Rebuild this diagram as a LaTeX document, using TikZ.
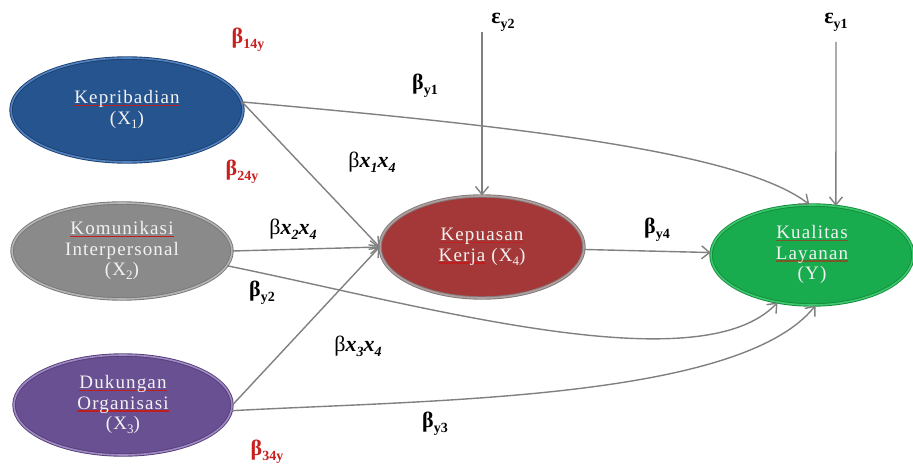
\documentclass[tikz,border=0pt]{standalone}
\usepackage{fontspec}
\setmainfont{Liberation Serif}
\newfontfamily\tnr{Liberation Serif}
\usetikzlibrary{shapes.geometric,arrows.meta}
\definecolor{lineg}{RGB}{128,128,128}
\definecolor{bluef}{RGB}{38,84,142}
\definecolor{blueo}{RGB}{30,62,112}
\definecolor{blueb}{RGB}{80,130,190}
\definecolor{grayf}{RGB}{138,138,138}
\definecolor{grayo}{RGB}{120,120,120}
\definecolor{grayb}{RGB}{180,180,180}
\definecolor{purpf}{RGB}{104,80,146}
\definecolor{purpo}{RGB}{85,62,120}
\definecolor{purpb}{RGB}{160,138,196}
\definecolor{redf}{RGB}{164,56,56}
\definecolor{redo}{RGB}{130,120,120}
\definecolor{redb}{RGB}{175,160,160}
\definecolor{greenf}{RGB}{24,172,78}
\definecolor{greeno}{RGB}{20,140,60}
\definecolor{greenb}{RGB}{60,200,110}
\definecolor{labred}{RGB}{200,30,30}
\definecolor{ulred}{RGB}{190,30,30}
\definecolor{ulgreen}{RGB}{120,90,40}
\newsavebox{\ulbox}
\newcommand{\ulc}[2]{\leavevmode\sbox{\ulbox}{#2}\rlap{\textcolor{#1}{\rule[-0.3ex]{\wd\ulbox}{1.6pt}}}\usebox{\ulbox}}
\newcommand{\rul}[1]{\ulc{ulred}{#1}}
\newcommand{\gul}[1]{\ulc{ulgreen}{#1}}
\newcommand{\sbx}[1]{\raisebox{-0.22em}{\fontsize{14}{14}\selectfont #1}}
\newcommand{\nsub}[1]{\raisebox{-0.2em}{\fontsize{13}{13}\selectfont #1}}
\newcommand{\lines}[1]{\begin{tabular}{@{}c@{}}#1\end{tabular}}
\begin{document}
\begin{tikzpicture}[x=1pt,y=-1pt,
  ell/.style={ellipse,inner sep=0pt,line width=0.9pt,double distance=1.6pt,
    font=\tnr\fontsize{19}{20.5}\selectfont\addfontfeature{LetterSpace=6},text=white!90!gray},
  arr/.style={draw=lineg,line width=1.4pt,-{Straight Barb[length=8pt,width=13pt,line width=1.4pt]}},
  lab/.style={inner sep=1pt,font=\tnr\fontsize{22}{24}\selectfont\bfseries},
  rlab/.style={lab,text=labred}]
\useasboundingbox (0,0) rectangle (913,465);

\node[ell,fill=bluef,draw=blueo,double=blueb,minimum width=232pt,minimum height=104pt] (X1) at (127,110) {\lines{\rul{Kepribadian}\\(X\nsub{1})}};
\node[ell,fill=grayf,draw=grayo,double=grayb,minimum width=220pt,minimum height=96pt] (X2) at (122,251) {\lines{\rul{Komunikasi}\\Interpersonal\\(X\nsub{2})}};
\node[ell,fill=purpf,draw=purpo,double=purpb,minimum width=218pt,minimum height=100pt] (X3) at (123,405) {\lines{\rul{Dukungan}\\\rul{Organisasi}\\(X\nsub{3})}};
\node[ell,fill=redf,draw=redo,double=redb,minimum width=204pt,minimum height=102pt] (X4) at (482,247) {\lines{\rul{Kepuasan}\\\rul{Kerja}\ (X\nsub{4})}};
\node[ell,fill=greenf,draw=greeno,double=greenb,minimum width=202pt,minimum height=100pt] (Y) at (812,255) {\lines{\gul{Kualitas}\\\gul{Layanan}\\(Y)}};

\coordinate (e2s) at (482,32);
\coordinate (e1s) at (836,42);
\node[lab] (ey2) at (503,22) {ε\sbx{y2}};
\node[lab] (ey1) at (836,22) {ε\sbx{y1}};

\draw[arr] (e2s) -- (X4.north);
\draw[arr] (e1s) -- (Y.64);

\draw[arr] (X1.4) .. controls (500,125) and (740,150) .. (Y.93);
\draw[arr] (X1.4) -- (X4.west);
\draw[arr] (X2.east) -- (X4.west);
\draw[arr] (X3.east) -- (X4.west);
\draw[arr] (X2.352) .. controls (420,305) and (700,385) .. (Y.234);
\draw[arr] (X3.357) .. controls (430,400) and (740,400) .. (Y.274);
\draw[arr] (X4) -- (Y);

\node[rlab] (b14) at (248,40) {β\sbx{14y}};
\node[rlab] (b24) at (242,172) {β\sbx{24y}};
\node[rlab] (b34) at (267,452) {β\sbx{34y}};
\node[lab] (by1) at (425,86) {β\sbx{y1}};
\node[lab] (by2) at (262,293) {β\sbx{y2}};
\node[lab] (by3) at (435,424) {β\sbx{y3}};
\node[lab] (by4) at (657,230) {β\sbx{y4}};
\node[lab,font=\tnr\fontsize{22}{24}\selectfont] (bx14) at (372,162) {β{\bfseries\itshape x\sbx{1}x\sbx{4}}};
\node[lab,font=\tnr\fontsize{22}{24}\selectfont] (bx24) at (293,229) {β{\bfseries\itshape x\sbx{2}x\sbx{4}}};
\node[lab,font=\tnr\fontsize{22}{24}\selectfont] (bx34) at (358,346) {β{\bfseries\itshape x\sbx{3}x\sbx{4}}};
\end{tikzpicture}
\end{document}
